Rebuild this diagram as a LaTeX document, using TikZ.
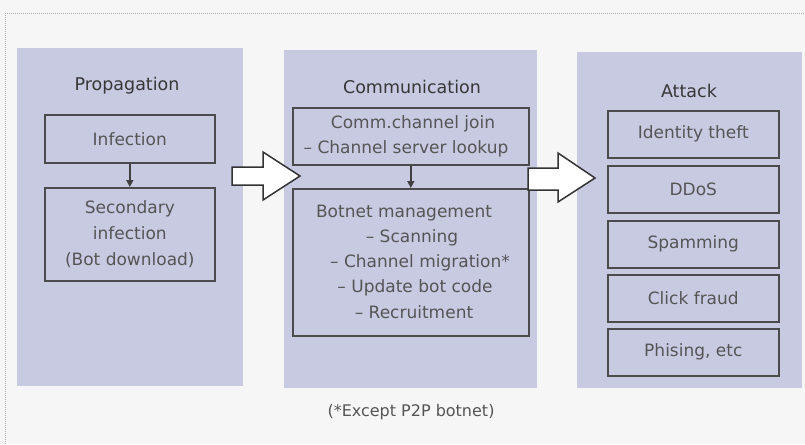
\documentclass[tikz,border=0pt]{standalone}
\usepackage{fontspec}
\setmainfont{DejaVu Sans}
\usetikzlibrary{arrows.meta}
\definecolor{bgc}{RGB}{246,246,246}
\definecolor{panelc}{RGB}{200,202,226}
\definecolor{linec}{RGB}{75,75,75}
\definecolor{txtc}{RGB}{85,85,85}
\definecolor{titlec}{RGB}{55,55,55}
\definecolor{framec}{RGB}{175,175,175}
\begin{document}
\begin{tikzpicture}[x=1pt,y=-1pt,
  panel/.style={fill=panelc, draw=none, inner sep=0pt, anchor=north west},
  box/.style={draw=linec, line width=1.6pt, inner sep=0pt, anchor=north west, text=txtc,
              font=\fontsize{17}{26}\selectfont, align=center},
  ttl/.style={text=titlec, font=\fontsize{17.5}{21}\selectfont},
  lbl/.style={text=txtc, font=\fontsize{17}{25}\selectfont},
  bigarrow/.style={draw=black!80, line width=1.5pt, fill=white, line join=miter},
  smallarrow/.style={draw=black!75, line width=1.5pt, -{Triangle[length=7pt,width=7pt]}}]
\fill[bgc] (0,0) rectangle (805,444);
\useasboundingbox (0,0) rectangle (805,444);
\draw[framec, densely dotted, line width=1pt] (5,444) -- (5,14) -- (805,14);
% panels
\node[panel, minimum width=226pt, minimum height=338pt] (prop) at (17,48) {};
\node[panel, minimum width=253pt, minimum height=338pt] (comm) at (284,50) {};
\node[panel, minimum width=225pt, minimum height=336pt] (att) at (577,52) {};
% titles
\node[ttl] (tprop) at (127,86) {Propagation};
\node[ttl] (tcomm) at (412,87) {Communication};
\node[ttl] (tatt) at (689,91) {Attack};
% propagation
\node[box, minimum width=170pt, minimum height=48pt] (inf) at (44,114) {Infection};
\node[box, minimum width=170pt, minimum height=93pt] (sec) at (44,187) {Secondary\\infection\\(Bot download)};
\draw[smallarrow] (inf.south) -- (sec.north);
% communication
\node[box, minimum width=236pt, minimum height=57pt] (join) at (292,107) {};
\node[lbl] (join1) at (413,124) {Comm.channel join};
\node[lbl] (join2) at (406,149) {– Channel server lookup};
\node[box, minimum width=236pt, minimum height=147pt] (mgmt) at (292,188) {};
\node[lbl] (m1) at (404,213) {Botnet management};
\node[lbl] (m2) at (412,238) {– Scanning};
\node[lbl] (m3) at (420,263) {– Channel migration*};
\node[lbl] (m4) at (415,288) {– Update bot code};
\node[lbl] (m5) at (414,312) {– Recruitment};
\draw[smallarrow] (join.south) -- (mgmt.north);
% attack
\node[box, minimum width=171pt, minimum height=47pt] (a1) at (607,110) {Identity theft};
\node[box, minimum width=171pt, minimum height=47pt] (a2) at (607,165) {DDoS};
\node[box, minimum width=171pt, minimum height=47pt] (a3) at (607,220) {Spamming};
\node[box, minimum width=171pt, minimum height=47pt] (a4) at (607,274) {Click fraud};
\node[box, minimum width=171pt, minimum height=47pt] (a5) at (607,328) {Phising, etc};
% big arrows
\draw[bigarrow] (232,167) -- (263,167) -- (263,152) -- (300,176) -- (263,200) -- (263,185) -- (232,185) -- cycle;
\draw[bigarrow] (528,168) -- (558,168) -- (558,153) -- (595,178) -- (558,202) -- (558,190) -- (528,190) -- cycle;
% footnote
\node[lbl, font=\fontsize{16}{20}\selectfont] (foot) at (411,412) {(*Except P2P botnet)};
\end{tikzpicture}
\end{document}
